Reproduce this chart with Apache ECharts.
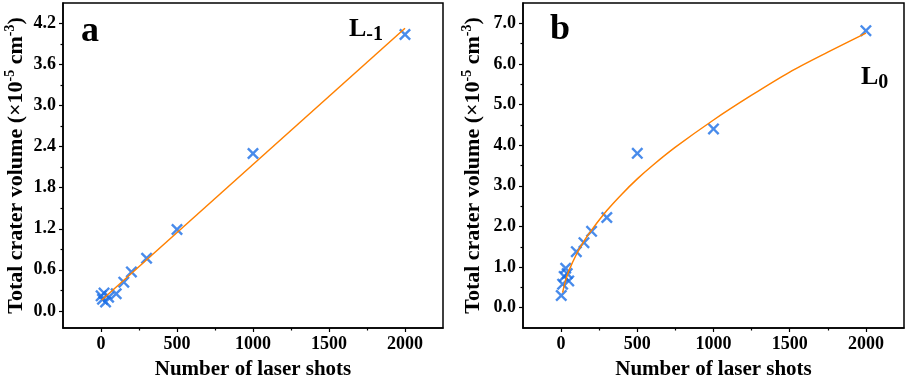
<!DOCTYPE html>
<html>
<head>
<meta charset="utf-8">
<script src="https://cdn.jsdelivr.net/npm/echarts@6/dist/echarts.min.js"></script>
<style>
  html, body { margin: 0; padding: 0; background: #fff; }
  #main { width: 908px; height: 380px; }
</style>
</head>
<body>
<div id="main"></div>
<script>
// panel a : L-1 (linear fit)
var shotsA = [1, 10, 20, 30, 50, 100, 150, 200, 300, 500, 1000, 2000];
var volumeA = [0.22, 0.17, 0.26, 0.13, 0.20, 0.25, 0.42, 0.57, 0.77, 1.19, 2.30, 4.04];
var fitShotsA = [5, 2000];
var fitVolumeA = [0.16, 4.13];

// panel b : L0 (power fit)
var shotsB = [1, 10, 20, 30, 40, 50, 100, 150, 200, 300, 500, 1000, 2000];
var volumeB = [0.30, 0.58, 0.77, 0.97, 0.84, 0.66, 1.38, 1.60, 1.88, 2.22, 3.80, 4.40, 6.82];
var fitShotsB = [10, 25, 50, 100, 150, 200, 300, 400, 500, 600, 750, 1000, 1250, 1500, 1750, 2000];
var fitVolumeB = [0.37, 0.61, 0.90, 1.31, 1.64, 1.91, 2.39, 2.80, 3.17, 3.50, 3.95, 4.62, 5.23, 5.80, 6.29, 6.76];

// ticks
var xMajor = [0, 500, 1000, 1500, 2000];
var xMinor = [250, 750, 1250, 1750];
var yMajorA = [0, 0.6, 1.2, 1.8, 2.4, 3.0, 3.6, 4.2];
var yMinorA = [0.3, 0.9, 1.5, 2.1, 2.7, 3.3, 3.9];
var yMajorB = [0, 1, 2, 3, 4, 5, 6, 7];
var yMinorB = [0.5, 1.5, 2.5, 3.5, 4.5, 5.5, 6.5];

var FONT = '"Liberation Serif", "Times New Roman", serif';
var BLUE = '#1a6ee6';
var ORANGE = '#ff8000';
var CROSS = 'path://M0,14L14,0L50,36L86,0L100,14L64,50L100,86L86,100L50,64L14,100L0,86L36,50Z';

function pairs(xs, ys) {
  return xs.map(function (x, i) { return [x, ys[i]]; });
}

var yName = 'Total crater volume (\u00d710{s|-5} cm{s|-3})';
var nameStyle = {
  fontFamily: FONT, fontWeight: 'bold', fontSize: 22, color: '#000',
  rich: { s: { fontFamily: FONT, fontWeight: 'bold', fontSize: 14, verticalAlign: 'top', padding: [0, 0, 12, 0] } }
};
var labelStyle = { fontFamily: FONT, fontWeight: 'bold', fontSize: 18, color: '#000' };

function xAxes(grid) {
  return [{
    type: 'value', gridIndex: grid, min: -250, max: 2250, position: 'bottom',
    name: 'Number of laser shots', nameLocation: 'middle', nameGap: 31,
    nameTextStyle: { fontFamily: FONT, fontWeight: 'bold', fontSize: 21, color: '#000' },
    axisLine: { onZero: false, lineStyle: { color: '#000', width: 1.5 } },
    axisTick: { customValues: xMajor, length: 4, lineStyle: { color: '#000', width: 1.2 } },
    axisLabel: Object.assign({
      customValues: xMajor, margin: 7,
      formatter: function (v) { return String(v); }
    }, labelStyle),
    splitLine: { show: false }
  }, {
    type: 'value', gridIndex: grid, min: -250, max: 2250, position: 'bottom',
    axisLine: { show: false, onZero: false },
    axisTick: { customValues: xMinor, length: 2.5, lineStyle: { color: '#000', width: 1.2 } },
    axisLabel: { show: false },
    splitLine: { show: false }
  }];
}

function yAxes(grid, min, max, major, minor, gap) {
  return [{
    type: 'value', gridIndex: grid, min: min, max: max, position: 'left',
    name: yName, nameLocation: 'middle', nameRotate: 90, nameGap: gap,
    nameTextStyle: nameStyle,
    axisLine: { onZero: false, lineStyle: { color: '#000', width: 1.5 } },
    axisTick: { customValues: major, length: 4, lineStyle: { color: '#000', width: 1.2 } },
    axisLabel: Object.assign({
      customValues: major, margin: 7,
      formatter: function (v) { return v.toFixed(1); }
    }, labelStyle),
    splitLine: { show: false }
  }, {
    type: 'value', gridIndex: grid, min: min, max: max, position: 'left',
    axisLine: { show: false, onZero: false },
    axisTick: { customValues: minor, length: 2.5, lineStyle: { color: '#000', width: 1.2 } },
    axisLabel: { show: false },
    splitLine: { show: false }
  }];
}

var myChart = echarts.init(document.getElementById('main'));
var option = {
  backgroundColor: '#fff',
  animation: false,
  grid: [
    { left: 63, right: 465, top: 3, bottom: 52, outerBoundsMode: 'none', containLabel: false,
      show: true, borderColor: '#000', borderWidth: 1.5, backgroundColor: 'transparent' },
    { left: 523, right: 4, top: 3, bottom: 52, outerBoundsMode: 'none', containLabel: false,
      show: true, borderColor: '#000', borderWidth: 1.5, backgroundColor: 'transparent' }
  ],
  xAxis: xAxes(0).concat(xAxes(1)),
  yAxis: yAxes(0, -0.25, 4.5, yMajorA, yMinorA, 34).concat(yAxes(1, -0.5, 7.5, yMajorB, yMinorB, 37)),
  series: [
    {
      type: 'scatter', xAxisIndex: 0, yAxisIndex: 0, z: 2,
      symbol: CROSS, symbolSize: 12,
      itemStyle: { color: BLUE },
      data: pairs(shotsA, volumeA)
    },
    {
      type: 'line', xAxisIndex: 0, yAxisIndex: 0, z: 3,
      showSymbol: false,
      lineStyle: { color: ORANGE, width: 1.5 },
      data: pairs(fitShotsA, fitVolumeA)
    },
    {
      type: 'scatter', xAxisIndex: 2, yAxisIndex: 2, z: 2,
      symbol: CROSS, symbolSize: 12,
      itemStyle: { color: BLUE },
      data: pairs(shotsB, volumeB)
    },
    {
      type: 'line', xAxisIndex: 2, yAxisIndex: 2, z: 3,
      showSymbol: false, smooth: 0.3,
      lineStyle: { color: ORANGE, width: 1.5 },
      data: pairs(fitShotsB, fitVolumeB)
    }
  ],
  graphic: [
    { type: 'text', left: 81, top: 14, style: { text: 'a', font: 'bold 36px ' + FONT, fill: '#000' } },
    { type: 'text', left: 550, top: 12, style: { text: 'b', font: 'bold 36px ' + FONT, fill: '#000' } },
    {
      type: 'text', left: 349, top: 16,
      style: {
        text: '{l|L}{s|-1}', fill: '#000',
        rich: {
          l: { font: 'bold 26px ' + FONT, fill: '#000' },
          s: { font: 'bold 20px ' + FONT, fill: '#000', padding: [12, 0, 0, 0] }
        }
      }
    },
    {
      type: 'text', left: 861, top: 64,
      style: {
        text: '{l|L}{s|0}', fill: '#000',
        rich: {
          l: { font: 'bold 26px ' + FONT, fill: '#000' },
          s: { font: 'bold 20px ' + FONT, fill: '#000', padding: [12, 0, 0, 0] }
        }
      }
    }
  ]
};
myChart.setOption(option);
</script>
</body>
</html>
